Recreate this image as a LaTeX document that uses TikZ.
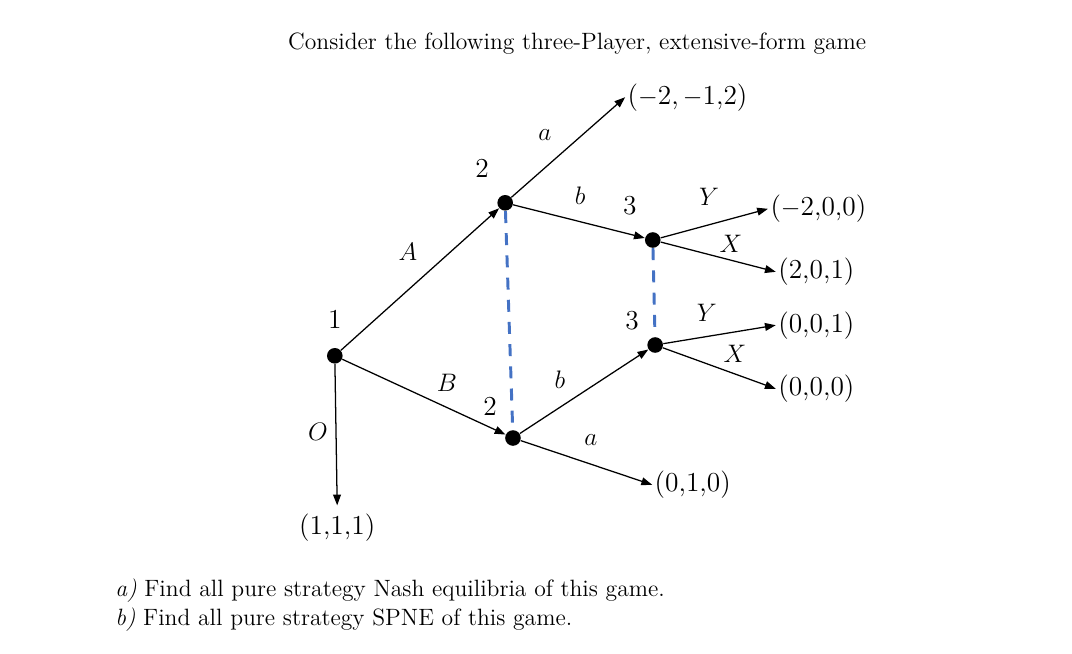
\documentclass[tikz,border=0pt]{standalone}
\usetikzlibrary{positioning,arrows.meta}
\definecolor{infoblue}{RGB}{68,114,196}
\begin{document}
\begin{tikzpicture}[
    dot/.style={circle,fill=black,inner sep=0pt,minimum size=0.26cm},
    pay/.style={anchor=west,inner sep=1pt,font=\fontsize{13}{15}\selectfont},
    lab/.style={font=\fontsize{13}{15}\selectfont},
    arr/.style={line width=0.6pt,-{Triangle[length=1.8mm,width=1.3mm]}},
    info/.style={infoblue,line width=1.4pt,dash pattern=on 0.2cm off 0.17cm}
  ]
            \useasboundingbox (0,0) rectangle (17.867,-10.9);
            \node[font=\fontsize{11.2}{13.5}\selectfont] (title) at (9.62,-0.72) {Consider the following three-Player, extensive-form game};

            \node[dot] (n1) at (5.58,-5.93) {};
            \node[dot] (n2u) at (8.42,-3.38) {};
            \node[dot] (n2l) at (8.55,-7.30) {};
            \node[dot] (n3u) at (10.88,-4.00) {};
            \node[dot] (n3l) at (10.92,-5.75) {};
            \node[lab,above=0.2 of n1] {1};
            \node[lab,above left=0.2 and 0.05 of n2u] {2};
            \node[lab,above left=0.15 and 0.05 of n2l] {2};
            \node[lab,above left=0.2 and 0.05 of n3u] {3};
            \node[lab,above left=0.02 and 0.05 of n3l] {3};

            \node[pay] (t1) at (10.42,-1.62) {($-$2,$\,-$1,2)};
            \node[pay] (t2) at (12.80,-3.48) {($-$2,0,0)};
            \node[pay] (t3) at (12.93,-4.53) {(2,0,1)};
            \node[pay] (t4) at (12.93,-5.42) {(0,0,1)};
            \node[pay] (t5) at (12.93,-6.48) {(0,0,0)};
            \node[pay] (t6) at (10.87,-8.08) {(0,1,0)};
            \node[lab,inner sep=1pt] (t7) at (5.62,-8.80) {(1,1,1)};

            \draw[arr] (n1) -- (n2u);
            \draw[arr] (n1) -- (n2l);
            \draw[arr] (n1) -- ([yshift=3pt]t7.north);
            \draw[arr] (n2u) -- (t1.west);
            \draw[arr] (n2u) -- (n3u);
            \draw[arr] (n2l) -- (n3l);
            \draw[arr] (n2l) -- (t6.west);
            \draw[arr] (n3u) -- (t2.west);
            \draw[arr] (n3u) -- (t3.west);
            \draw[arr] (n3l) -- (t4.west);
            \draw[arr] (n3l) -- (t5.west);
            \draw[info] (n2u) -- (n2l);
            \draw[info] (n3u) -- (n3l);

            \node[lab] at (6.80,-4.20) {$A$};
            \node[lab] at (7.45,-6.38) {$B$};
            \node[lab] at (5.30,-7.20) {$O$};
            \node[lab] at (9.08,-2.25) {$a$};
            \node[lab] at (9.67,-3.27) {$b$};
            \node[lab] at (11.82,-3.28) {$Y$};
            \node[lab] at (12.18,-4.07) {$X$};
            \node[lab] at (11.78,-5.22) {$Y$};
            \node[lab] at (12.25,-5.90) {$X$};
            \node[lab] at (9.33,-6.33) {$b$};
            \node[lab] at (9.85,-7.33) {$a$};

            \node[anchor=west,align=left,font=\fontsize{11.2}{13.6}\selectfont] (ask) at (1.80,-10.08) {\textit{a)} Find all pure strategy Nash equilibria of this game.\\ \textit{b)} Find all pure strategy SPNE of this game.};
        \end{tikzpicture}
\end{document}
